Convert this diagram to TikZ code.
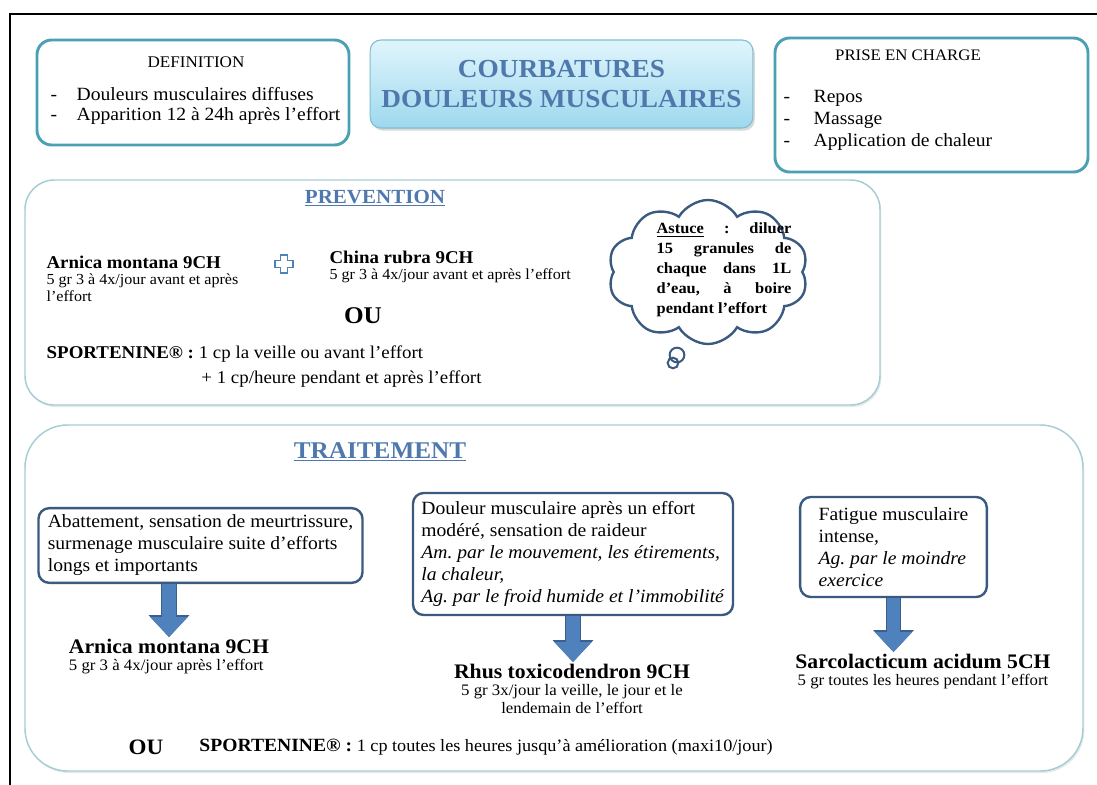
\documentclass[tikz,border=0pt]{standalone}
\usepackage{fontspec}
\setmainfont{Liberation Serif}[FakeStretch=1.05]
\usepackage{tikz}
\usetikzlibrary{shapes.symbols, arrows.meta, positioning, calc, fit, shadows}
\definecolor{cardteal}{RGB}{75,160,178}
\definecolor{paneteal}{RGB}{165,205,212}
\definecolor{titletop}{RGB}{224,245,252}
\definecolor{titlebot}{RGB}{158,216,238}
\definecolor{titleedge}{RGB}{125,190,210}
\definecolor{headblue}{RGB}{79,121,172}
\definecolor{boxnavy}{RGB}{59,90,128}
\definecolor{arrowfill}{RGB}{79,129,189}
\definecolor{arrowedge}{RGB}{58,95,140}
\newcommand\listdash[1]{\makebox[#1][l]{-}}
\frenchspacing

\begin{document}
\begin{tikzpicture}[
  x=0.75pt, y=-0.75pt,
  card/.style={draw=cardteal, line width=2.2pt, rounded corners=11pt, inner sep=0pt},
  pane/.style={draw=paneteal, fill=white, line width=1.1pt, inner sep=0pt, drop shadow={opacity=0.18, shadow xshift=1pt, shadow yshift=-1.5pt}},
  symptom/.style={draw=boxnavy, fill=white, line width=1.8pt, rounded corners=8pt, align=left, inner xsep=6pt, inner ysep=4pt, font=\fontsize{14}{16.5}\selectfont},
  remedy/.style={font=\bfseries\fontsize{13.5}{15}\selectfont, inner sep=1pt},
  posology/.style={font=\fontsize{11.5}{12.8}\selectfont, align=left, inner sep=1pt},
  heading/.style={text=headblue, inner sep=1pt},
  bubble/.style={circle, draw=boxnavy, line width=1.5pt, inner sep=0pt},
  bigdown/.style={draw=arrowfill, line width=10pt, -{Triangle[length=15pt, width=27pt]},
    preaction={draw=arrowedge, line width=11.5pt, -{Triangle[length=16.5pt, width=29.5pt]}}},
]
\useasboundingbox (0,0) rectangle (1097,785);
\draw[line width=1.5pt] (1097,14) -- (10,14) -- (10,785);

% top row
\node[card, fit={(37,40) (349,145)}] (def) {};
\node[font=\fontsize{12.2}{14}\selectfont] (defhead) at (196,62) {DEFINITION};
\node[anchor=west, align=left, font=\fontsize{14}{14.6}\selectfont] (deflist) at (46,106)
  {\listdash{19.5pt}Douleurs musculaires diffuses\\ \listdash{19.5pt}Apparition 12 à 24h après l’effort};

\node[draw=titleedge, line width=0.8pt, top color=titletop, bottom color=titlebot,
  rounded corners=8pt, minimum width=287pt, minimum height=66pt, align=center,
  drop shadow={opacity=0.3, shadow xshift=1.5pt, shadow yshift=-2pt},
  font=\bfseries\fontsize{19.5}{23}\selectfont, text=headblue] (title) at (561.5,84)
  {COURBATURES\\DOULEURS MUSCULAIRES};

\node[card, fit={(775,38) (1088,172)}] (care) {};
\node[font=\fontsize{12}{14}\selectfont] (carehead) at (908,55) {PRISE EN CHARGE};
\node[anchor=west, align=left, font=\fontsize{14}{16.5}\selectfont] (carelist) at (779,120)
  {\listdash{22.5pt}Repos\\ \listdash{22.5pt}Massage\\ \listdash{22.5pt}Application de chaleur};

% prevention
\node[pane, rounded corners=22pt, fit={(25,180) (880,405)}] (prev) {};
\node[heading, font=\bfseries\fontsize{15}{17}\selectfont] (prevhead) at (375,198) {\underline{PREVENTION}};
\node[remedy, anchor=west] (arnp) at (45,262) {Arnica montana 9CH};
\node[posology, below=1.5pt of arnp.south west, anchor=north west] (arnpdose) {5 gr 3 à 4x/jour avant et après\\l’effort};
\draw[draw=arrowfill, line width=1.2pt, fill=white, shift={(284,264)}]
  (-3.5,-9) -- (3.5,-9) -- (3.5,-3.5) -- (9,-3.5) -- (9,3.5) -- (3.5,3.5) -- (3.5,9)
  -- (-3.5,9) -- (-3.5,3.5) -- (-9,3.5) -- (-9,-3.5) -- (-3.5,-3.5) -- cycle;
\node[remedy, anchor=west] (china) at (328,257) {China rubra 9CH};
\node[posology, below=1.5pt of china.south west, anchor=north west] (chinadose) {5 gr 3 à 4x/jour avant et après l’effort};
\node[font=\bfseries\fontsize{18}{20}\selectfont] (or1) at (363,316) {OU};
\node[anchor=west, font=\fontsize{13.5}{18.5}\selectfont] (sportp) at (42,366)
  {\begin{tabular}{@{}l@{ }l@{}}
   \textbf{SPORTENINE® :} & 1 cp la veille ou avant l’effort\\
   & \hspace*{2pt}+ 1 cp/heure pendant et après l’effort
   \end{tabular}};

% thought bubble
\node[cloud, cloud puffs=10, cloud puff arc=120, aspect=1.38, draw=boxnavy, line width=1.8pt,
  fill=white, minimum width=150pt, minimum height=108pt, inner sep=0pt] (tip) at (708,272) {};
\node[bubble, minimum size=11pt] (bub1) at (677,355) {};
\node[bubble, minimum size=8pt] (bub2) at (673,363) {};
\node[text width=101pt, align=justify, inner sep=0pt, font=\bfseries\fontsize{11.7}{15}\selectfont] (tiptext) at (724,270)
  {\underline{Astuce} : diluer\linebreak 15 granules de\linebreak chaque dans 1L\linebreak d’eau, à boire\linebreak pendant l’effort};

% treatment
\node[pane, rounded corners=32pt, fit={(25,425) (1083,771)}] (treat) {};
\node[heading, font=\bfseries\fontsize{18}{20}\selectfont] (treathead) at (380,452) {\underline{TRAITEMENT}};

\node[symptom, minimum width=243pt, minimum height=56pt] (sym1) at (200.5,545.5)
  {Abattement, sensation de meurtrissure,\\surmenage musculaire suite d’efforts\\longs et importants};
\node[symptom, minimum width=240pt, minimum height=91.5pt] (sym2) at (573,554)
  {Douleur musculaire après un effort\\modéré, sensation de raideur\\\textit{Am. par le mouvement, les étirements,}\\\textit{la chaleur,}\\\textit{Ag. par le froid humide et l’immobilité}};
\node[symptom, minimum width=140pt, minimum height=75pt] (sym3) at (893.5,547)
  {Fatigue musculaire\\intense,\\\textit{Ag. par le moindre}\\\textit{exercice}};

\node[remedy, font=\bfseries\fontsize{15.5}{17}\selectfont] (arnt) at (169,646) {Arnica montana 9CH};
\node[posology, font=\fontsize{12}{13.5}\selectfont, below=2pt of arnt.south west, anchor=north west] (arntdose) {5 gr 3 à 4x/jour après l’effort};
\node[remedy, font=\bfseries\fontsize{15.5}{17}\selectfont] (rhus) at (572,671) {Rhus toxicodendron 9CH};
\node[posology, font=\fontsize{12}{13.5}\selectfont, align=center, below=2pt of rhus] (rhusdose) {5 gr 3x/jour la veille, le jour et le\\lendemain de l’effort};
\node[remedy, font=\bfseries\fontsize{15.5}{17}\selectfont] (sarco) at (923,661) {Sarcolacticum acidum 5CH};
\node[posology, font=\fontsize{12}{13.5}\selectfont, below=2pt of sarco] (sarcodose) {5 gr toutes les heures pendant l’effort};

\draw[bigdown] (sym1.south -| arnt.north) -- (arnt.north);
\draw[bigdown] (sym2.south) -- (sym2.south |- rhus.north);
\draw[bigdown] (sym3.south) -- (sym3.south |- sarco.north);

\node[anchor=west, font=\bfseries\fontsize{16.5}{18}\selectfont] (or2) at (124,747) {OU};
\node[right=20pt of or2, font=\fontsize{13}{15}\selectfont] (sportt)
  {\textbf{\fontsize{14}{15}\selectfont SPORTENINE® :} 1 cp toutes les heures jusqu’à amélioration (maxi10/jour)};
\end{tikzpicture}
\end{document}
